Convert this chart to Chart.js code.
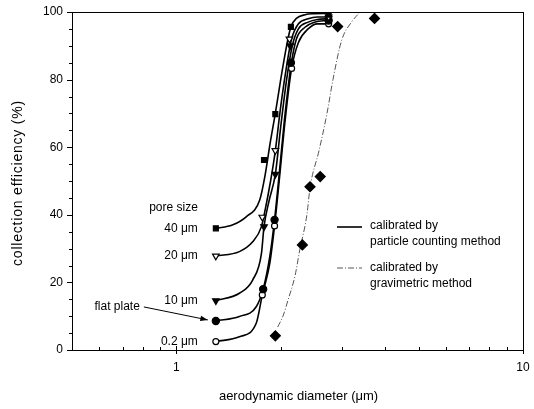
<!DOCTYPE html>
<html>
<head>
<meta charset="utf-8">
<script src="https://cdn.jsdelivr.net/npm/chart.js@4/dist/chart.umd.min.js"></script>
<style>
html,body{margin:0;padding:0;background:#fff;}
#wrap{width:534px;height:409px;}
</style>
</head>
<body>
<div id="wrap"><canvas id="c" width="534" height="409"></canvas></div>
<script>
// ---------- data ----------
const seriesNames = ['40 μm', '20 μm', '10 μm', 'flat plate', '0.2 μm'];

// measured points (aerodynamic diameter, µm / collection efficiency, %)
const d40 = [1.30, 1.79, 1.93, 2.14, 2.75];
const e40 = [36.0, 56.2, 69.8, 95.6, 99.2];
const d20 = [1.30, 1.77, 1.93, 2.12, 2.75];
const e20 = [27.8, 39.3, 59.0, 92.0, 98.5];
const d10 = [1.30, 1.79, 1.93, 2.13, 2.75];
const e10 = [14.6, 36.5, 52.0, 90.0, 98.0];
const dFlat = [1.30, 1.78, 1.92, 2.14, 2.75];
const eFlat = [8.6, 18.0, 38.5, 85.0, 97.5];
const d02 = [1.30, 1.77, 1.92, 2.15, 2.75];
const e02 = [2.5, 16.3, 36.7, 83.3, 96.5];
const dGrav = [1.93, 2.31, 2.43, 2.60, 2.92, 3.73];
const eGrav = [4.2, 31.1, 48.3, 51.3, 95.7, 98.1];

// fitted curves
const c40d = [1.30, 1.45, 1.59, 1.74, 1.80, 1.87, 1.93, 2.00, 2.08, 2.14, 2.22, 2.35, 2.50, 2.75];
const c40e = [36.0, 37.0, 39.4, 44.4, 51.3, 62.0, 70.0, 80.0, 90.0, 95.6, 98.1, 99.2, 99.5, 99.6];
const c20d = [1.30, 1.52, 1.66, 1.76, 1.80, 1.87, 1.93, 2.00, 2.08, 2.15, 2.25, 2.40, 2.55, 2.75];
const c20e = [27.8, 29.1, 32.0, 36.5, 41.0, 50.0, 59.0, 72.0, 84.0, 92.0, 96.5, 98.0, 98.5, 98.5];
const c10d = [1.30, 1.52, 1.66, 1.76, 1.79, 1.85, 1.93, 2.00, 2.08, 2.16, 2.25, 2.40, 2.55, 2.75];
const c10e = [14.6, 16.8, 20.7, 28.6, 36.5, 44.0, 52.0, 66.0, 80.0, 90.0, 95.0, 97.0, 97.8, 98.0];
const cFd = [1.30, 1.52, 1.70, 1.78, 1.86, 1.92, 1.98, 2.05, 2.14, 2.22, 2.35, 2.50, 2.75];
const cFe = [8.6, 9.9, 12.8, 18.0, 27.6, 38.5, 52.0, 68.0, 84.0, 92.0, 95.5, 97.0, 97.5];
const c02d = [1.30, 1.52, 1.70, 1.77, 1.86, 1.92, 1.98, 2.06, 2.15, 2.25, 2.40, 2.55, 2.75];
const c02e = [2.5, 3.9, 7.9, 16.3, 25.6, 36.7, 50.0, 68.0, 83.3, 91.0, 95.0, 96.5, 96.5];
const cGd = [1.96, 2.03, 2.10, 2.20, 2.27, 2.38, 2.43, 2.58, 2.72, 2.83, 3.00, 3.20, 3.39];
const cGe = [6.8, 10.0, 14.8, 22.0, 29.6, 40.0, 48.0, 59.0, 70.0, 80.0, 91.7, 97.0, 100.0];

// axes
const xMin = 0.5, xMax = 10;
const yMin = 0, yMax = 100;
const xMajorTicks = [1, 10];
const xMinorTicks = [0.6, 0.7, 0.8, 0.9, 2, 3, 4, 5, 6, 7, 8, 9];
const yMajorTicks = [0, 20, 40, 60, 80, 100];
const yMinorTicks = [5, 10, 15, 25, 30, 35, 45, 50, 55, 65, 70, 75, 85, 90, 95];

const xTitle = 'aerodynamic diameter (μm)';
const yTitle = 'collection efficiency (%)';
const legendTexts = [['calibrated by', 'particle counting method'], ['calibrated by', 'gravimetric method']];
const poreTitle = 'pore size';

// ---------- build datasets ----------
const pts = (xs, ys) => xs.map((v, i) => ({x: v, y: ys[i]}));
const FONT = '"Liberation Sans", Arial, sans-serif';

function curve(xs, ys, dashed) {
  return {
    data: pts(xs, ys), showLine: true, pointRadius: 0, pointHoverRadius: 0,
    borderColor: dashed ? '#555' : '#000', borderWidth: dashed ? 1 : 1.6,
    borderDash: dashed ? [6, 2, 1, 2] : [], cubicInterpolationMode: 'monotone',
    fill: false, order: 2
  };
}
function marks(xs, ys, style, filled, radius, rot) {
  return {
    data: pts(xs, ys), showLine: false, pointStyle: style, pointRadius: radius,
    pointRotation: rot || 0, pointBackgroundColor: filled ? '#000' : '#fff',
    pointBorderColor: '#000', pointBorderWidth: 1.2, order: 1
  };
}

const datasets = [
  marks(d40, e40, 'rect', true, 3.5),
  marks(d20, e20, 'triangle', false, 3.8, 180),
  marks(d10, e10, 'triangle', true, 3.8, 180),
  marks(dFlat, eFlat, 'circle', true, 3.6),
  marks(d02, e02, 'circle', false, 3),
  marks(dGrav, eGrav, 'rectRot', true, 5),
  curve(c40d, c40e), curve(c20d, c20e), curve(c10d, c10e),
  curve(cFd, cFe), curve(c02d, c02e), curve(cGd, cGe, true)
];
const firstMarks = [[d40[0], e40[0]], [d20[0], e20[0]], [d10[0], e10[0]], [dFlat[0], eFlat[0]], [d02[0], e02[0]]];

// ---------- decoration plugin ----------
const deco = {
  id: 'deco',
  afterDraw(chart) {
    const {ctx, chartArea: a, scales: {x, y}} = chart;
    ctx.save();
    ctx.strokeStyle = '#000';
    ctx.lineWidth = 1;
    // frame
    ctx.strokeRect(Math.round(a.left) + 0.5, Math.round(a.top) + 0.5,
      Math.round(a.right - a.left), Math.round(a.bottom - a.top));
    // y ticks (outside)
    ctx.beginPath();
    yMajorTicks.forEach(v => { const p = Math.round(y.getPixelForValue(v)) + 0.5; ctx.moveTo(a.left - 5, p); ctx.lineTo(a.left, p); });
    yMinorTicks.forEach(v => { const p = Math.round(y.getPixelForValue(v)) + 0.5; ctx.moveTo(a.left - 3, p); ctx.lineTo(a.left, p); });
    // x ticks
    xMajorTicks.forEach(v => { const p = Math.round(x.getPixelForValue(v)) + 0.5; ctx.moveTo(p, a.bottom + 4); ctx.lineTo(p, a.bottom - 4); });
    xMinorTicks.forEach(v => { const p = Math.round(x.getPixelForValue(v)) + 0.5; ctx.moveTo(p, a.bottom); ctx.lineTo(p, a.bottom - 3); });
    ctx.stroke();

    ctx.fillStyle = '#000';
    ctx.font = '12px ' + FONT;
    ctx.textAlign = 'right'; ctx.textBaseline = 'middle';
    yMajorTicks.forEach(v => ctx.fillText(String(v), a.left - 9, y.getPixelForValue(v)));
    ctx.textAlign = 'center'; ctx.textBaseline = 'top';
    xMajorTicks.forEach(v => ctx.fillText(String(v), x.getPixelForValue(v), a.bottom + 12));

    // titles
    ctx.font = '13px ' + FONT;
    ctx.textAlign = 'center'; ctx.textBaseline = 'middle';
    ctx.fillText(xTitle, (a.left + a.right) / 2 + 1, a.bottom + 46);
    ctx.save();
    ctx.translate(18, (a.top + a.bottom) / 2 + 2);
    ctx.rotate(-Math.PI / 2);
    ctx.font = '14px ' + FONT;
    ctx.letterSpacing = '0.8px';
    ctx.fillText(yTitle, 0, 0);
    ctx.restore();

    // series labels
    ctx.font = '12px ' + FONT;
    ctx.textBaseline = 'middle';
    firstMarks.forEach((m, i) => {
      const px = x.getPixelForValue(m[0]), py = y.getPixelForValue(m[1]);
      if (seriesNames[i] === 'flat plate') {
        ctx.textAlign = 'right';
        ctx.fillText(seriesNames[i], px - 76, py - 14);
        // arrow
        const sx = px - 72, sy = py - 14, ex = px - 8, ey = py - 1;
        ctx.beginPath(); ctx.moveTo(sx, sy); ctx.lineTo(ex, ey); ctx.stroke();
        const ang = Math.atan2(ey - sy, ex - sx);
        ctx.beginPath();
        ctx.moveTo(ex, ey);
        ctx.lineTo(ex - 8 * Math.cos(ang - 0.35), ey - 8 * Math.sin(ang - 0.35));
        ctx.lineTo(ex - 8 * Math.cos(ang + 0.35), ey - 8 * Math.sin(ang + 0.35));
        ctx.closePath(); ctx.fill();
      } else {
        ctx.textAlign = 'right';
        ctx.fillText(seriesNames[i], px - 18, py);
        if (i === 0) ctx.fillText(poreTitle, px - 18, py - 21);
      }
    });

    // legend
    const lx = 337, lt = 370;
    ctx.textAlign = 'left';
    ctx.beginPath(); ctx.lineWidth = 1.6; ctx.moveTo(lx, 227); ctx.lineTo(lx + 25, 227); ctx.stroke();
    ctx.fillText(legendTexts[0][0], lt, 226);
    ctx.fillText(legendTexts[0][1], lt, 242);
    ctx.beginPath(); ctx.lineWidth = 1; ctx.strokeStyle = '#555'; ctx.setLineDash([6, 2, 1, 2]);
    ctx.moveTo(lx, 268); ctx.lineTo(lx + 25, 268); ctx.stroke();
    ctx.setLineDash([]);
    ctx.fillText(legendTexts[1][0], lt, 268);
    ctx.fillText(legendTexts[1][1], lt, 284);
    ctx.restore();
  }
};

new Chart(document.getElementById('c'), {
  type: 'scatter',
  data: {datasets},
  options: {
    responsive: false, animation: false,
    layout: {padding: {left: 72, right: 11, top: 12, bottom: 59}},
    plugins: {legend: {display: false}, tooltip: {enabled: false}},
    scales: {
      x: {type: 'logarithmic', min: xMin, max: xMax, display: false},
      y: {type: 'linear', min: yMin, max: yMax, display: false}
    }
  },
  plugins: [deco]
});
</script>
</body>
</html>
